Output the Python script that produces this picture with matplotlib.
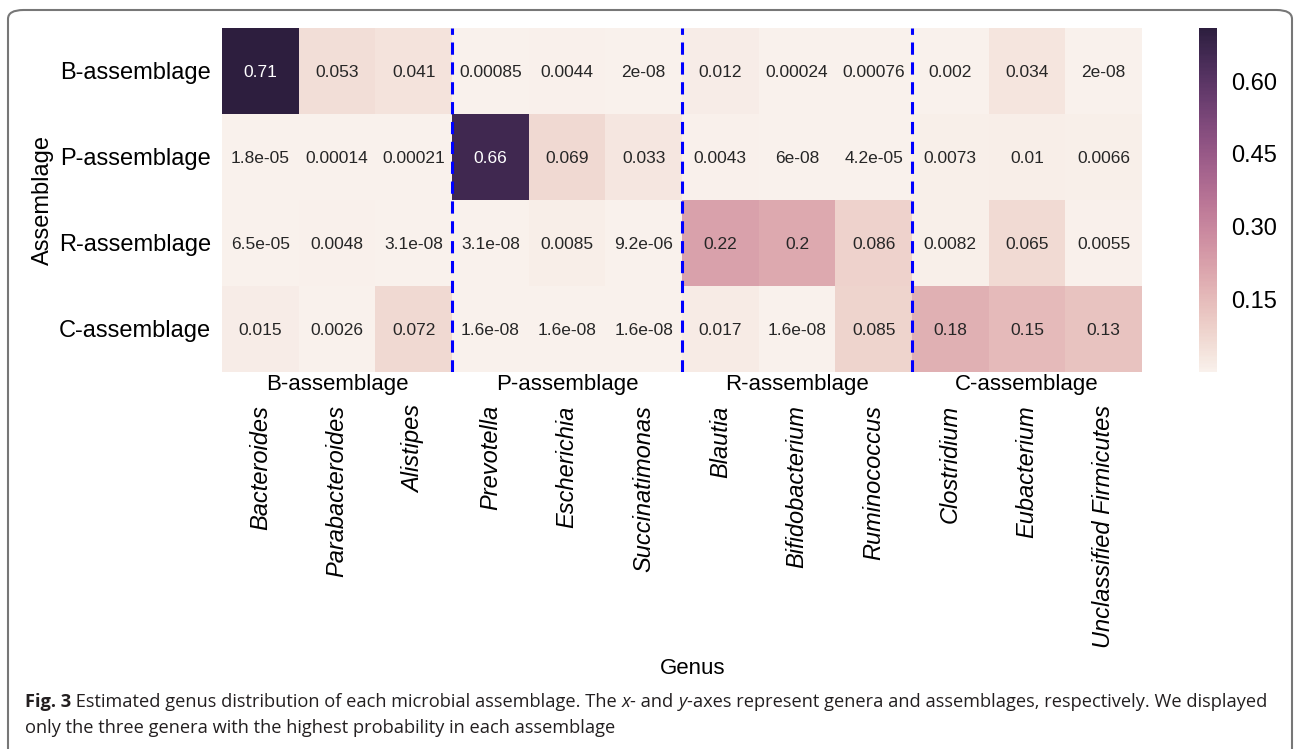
import numpy as np
import matplotlib
matplotlib.use('Agg')
import matplotlib.pyplot as plt
from matplotlib.patches import FancyBboxPatch
import seaborn as sns

assemblages = ['B-assemblage', 'P-assemblage', 'R-assemblage', 'C-assemblage']
genera = ['Bacteroides', 'Parabacteroides', 'Alistipes',
          'Prevotella', 'Escherichia', 'Succinatimonas',
          'Blautia', 'Bifidobacterium', 'Ruminococcus',
          'Clostridium', 'Eubacterium', 'Unclassified Firmicutes']
group_names = ['B-assemblage', 'P-assemblage', 'R-assemblage', 'C-assemblage']
group_size = 3

b_row = [0.71, 0.053, 0.041, 0.00085, 0.0044, 2e-08, 0.012, 0.00024, 0.00076, 0.002, 0.034, 2e-08]
p_row = [1.8e-05, 0.00014, 0.00021, 0.66, 0.069, 0.033, 0.0043, 6e-08, 4.2e-05, 0.0073, 0.01, 0.0066]
r_row = [6.5e-05, 0.0048, 3.1e-08, 3.1e-08, 0.0085, 9.2e-06, 0.22, 0.2, 0.086, 0.0082, 0.065, 0.0055]
c_row = [0.015, 0.0026, 0.072, 1.6e-08, 1.6e-08, 1.6e-08, 0.017, 1.6e-08, 0.085, 0.18, 0.15, 0.13]

caption_runs = [
    [('Fig. 3', 'bold', 'normal'),
     (' Estimated genus distribution of each microbial assemblage. The ', 'normal', 'normal'),
     ('x', 'normal', 'italic'), ('- and ', 'normal', 'normal'),
     ('y', 'normal', 'italic'),
     ('-axes represent genera and assemblages, respectively. We displayed', 'normal', 'normal')],
    [('only the three genera with the highest probability in each assemblage', 'normal', 'normal')],
]

plt.rcParams['font.family'] = ['Liberation Sans', 'DejaVu Sans']

data = np.array([b_row, p_row, r_row, c_row])

fig = plt.figure(figsize=(12.94, 7.49), dpi=100)
W, H = 1294, 749
ax = fig.add_axes([222 / W, 1 - 372 / H, 920 / W, 344 / H])
cax = fig.add_axes([1199 / W, 1 - 372 / H, 18 / W, 344 / H])

cmap = sns.cubehelix_palette(light=0.95, as_cmap=True)
sns.heatmap(data, ax=ax, cbar_ax=cax, cmap=cmap, annot=True, fmt='g',
            annot_kws={'fontsize': 12.5, 'va': 'center_baseline'},
            xticklabels=genera, yticklabels=assemblages,
            cbar_kws={'ticks': [0.15, 0.30, 0.45, 0.60], 'format': '%.2f'})

ax.tick_params(axis='y', length=0, pad=8, labelsize=17, labelrotation=0)
ax.tick_params(axis='x', length=0, pad=24, labelsize=17, labelrotation=90)
for t in ax.get_yticklabels():
    t.set_va('center_baseline')
for t in ax.get_xticklabels():
    t.set_fontstyle('italic')
    t.set_va('top')

# dashed separators between the assemblage groups
for k in range(group_size, len(genera), group_size):
    ax.axvline(k, color='blue', linestyle='--', linewidth=2.2, dashes=(4, 2.5))

# group names under the heatmap
for i, name in enumerate(group_names):
    ax.text(i * group_size + group_size / 2, len(assemblages) + 0.14, name,
            ha='center', va='center', fontsize=16)

ax.set_ylabel('Assemblage', fontsize=17)
ax.yaxis.set_label_coords(-0.183, 0.5)
ax.set_xlabel('Genus', fontsize=16)
ax.xaxis.set_label_coords(0.512, -0.83)

cax.tick_params(length=0, pad=10, labelsize=17)
ax.collections[0].colorbar.outline.set_visible(False)

# figure frame
frame = FancyBboxPatch((8 / W, -0.05), (1284 / W), 1.05 - 10 / H,
                       boxstyle='round,pad=0,rounding_size=0.012',
                       transform=fig.transFigure, fill=False,
                       edgecolor='#777777', linewidth=1.5)
fig.patches.append(frame)

# caption
fig.canvas.draw()
renderer = fig.canvas.get_renderer()
cap_fs = 13.15
baselines = [707, 733]
for line, yb in zip(caption_runs, baselines):
    x = 25
    for txt, weight, style in line:
        t = fig.text(x / W, 1 - yb / H, txt, fontsize=cap_fs, fontweight=weight,
                     fontstyle=style, family=['Open Sans', 'DejaVu Sans'],
                     color='#231f20', va='baseline', ha='left')
        bb = t.get_window_extent(renderer)
        x += bb.width

fig.savefig('out.png', dpi=100)
